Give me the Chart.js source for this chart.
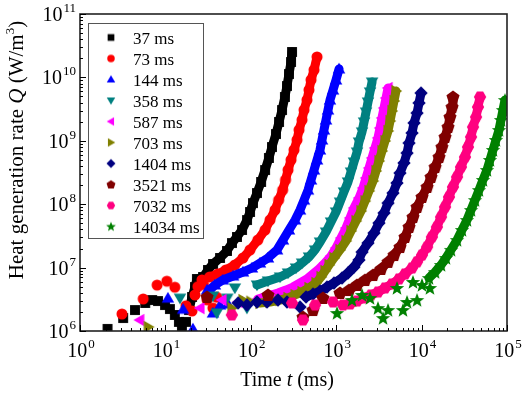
<!DOCTYPE html>
<html>
<head>
<meta charset="utf-8">
<script src="https://cdn.jsdelivr.net/npm/chart.js@4.4.1/dist/chart.umd.min.js"></script>
<style>
  html, body { margin: 0; padding: 0; background: #fff; }
  canvas { display: block; }
</style>
</head>
<body>
<canvas id="chart" width="526" height="395"></canvas>
<script>
const seriesLabels = ['37 ms', '73 ms', '144 ms', '358 ms', '587 ms', '703 ms', '1404 ms', '3521 ms', '7032 ms', '14034 ms'];
const seriesColors = ['#000000', '#ff0000', '#0000ff', '#008080', '#ff00ff', '#808000', '#000080', '#800000', '#ff0080', '#008000'];
const seriesShapes = ['square', 'circle', 'up', 'down', 'left', 'right', 'diamond', 'pentagon', 'hexagon', 'star'];

// time t (ms), heat generation rate Q (W/m3) -- dense rising part of each run
const band37 = [[18.9, 2.14e6], [20.5, 3.44e6], [22.2, 4.94e6], [23.4, 6.61e6], [27.6, 7.11e6], [31.5, 9.17e6], [36.1, 1.14e7], [43.6, 1.42e7], [52.6, 1.83e7], [60.2, 2.44e7], [68.9, 3.04e7], [78.9, 3.92e7], [90.3, 5.63e7], [98, 7.54e7], [106, 1.04e8], [118, 1.5e8], [132, 2.24e8], [147, 3.46e8], [163, 5.36e8], [177, 7.98e8], [197, 1.28e9], [214, 1.98e9], [232, 3.06e9], [251, 4.91e9], [265, 7.31e9], [280, 1.13e10], [296, 1.75e10], [304, 2.52e10]];
const band73 = [[33, 7.11e6], [41, 7.93e6], [51, 9.17e6], [65, 1.1e7], [81, 1.42e7], [98, 1.9e7], [121, 2.72e7], [147, 3.92e7], [168, 5.63e7], [192, 8.1e7], [212, 1.16e8], [236, 1.67e8], [255, 2.41e8], [273, 3.46e8], [296, 4.98e8], [321, 7.16e8], [348, 1.03e9], [367, 1.48e9], [398, 2.13e9], [420, 3.06e9], [455, 4.4e9], [480, 6.32e9], [507, 9.1e9], [550, 1.31e10], [596, 2.1e10]];
const band144 = [[33, 4.43e6], [38, 5.32e6], [47, 6.37e6], [62, 7.37e6], [81, 8.52e6], [103, 9.86e6], [128, 1.18e7], [159, 1.42e7], [203, 1.9e7], [238, 2.72e7], [280, 3.92e7], [330, 5.63e7], [377, 8.1e7], [420, 1.16e8], [468, 1.67e8], [507, 2.41e8], [550, 3.46e8], [596, 4.98e8], [646, 7.16e8], [682, 1.03e9], [719, 1.48e9], [760, 2.13e9], [802, 3.06e9], [846, 4.4e9], [918, 6.32e9], [995, 9.1e9], [1080, 1.36e10]];
const band358 = [[118, 5.32e6], [159, 6.15e6], [220, 7.11e6], [273, 8.22e6], [338, 9.86e6], [398, 1.18e7], [480, 1.47e7], [565, 1.9e7], [646, 2.53e7], [760, 3.64e7], [869, 5.24e7], [995, 7.54e7], [1107, 1.08e8], [1233, 1.56e8], [1374, 2.24e8], [1490, 3.22e8], [1615, 4.63e8], [1754, 6.65e8], [1849, 9.57e8], [2005, 1.38e9], [2117, 1.98e9], [2234, 2.84e9], [2356, 4.09e9], [2488, 5.89e9], [2630, 8.46e9]];
const band587 = [[121, 3.2e6], [159, 3.56e6], [208, 3.98e6], [258, 4.43e6], [312, 4.94e6], [377, 5.71e6], [455, 6.61e6], [535, 7.93e6], [629, 9.51e6], [739, 1.18e7], [869, 1.52e7], [995, 2.04e7], [1138, 2.93e7], [1303, 4.21e7], [1452, 6.06e7], [1615, 8.71e7], [1849, 1.25e8], [2061, 1.8e8], [2234, 2.59e8], [2423, 3.72e8], [2626, 5.36e8], [2845, 7.7e8], [3085, 1.11e9], [3256, 1.59e9], [3437, 2.29e9], [3630, 3.29e9], [3830, 4.73e9], [4050, 6.81e9]];
const band703 = [[128, 2.77e6], [168, 2.87e6], [220, 3.08e6], [273, 3.32e6], [330, 3.7e6], [398, 4.12e6], [480, 4.77e6], [580, 5.71e6], [664, 7.11e6], [739, 8.84e6], [824, 1.1e7], [942, 1.42e7], [1107, 1.9e7], [1303, 2.63e7], [1490, 3.78e7], [1706, 5.43e7], [1951, 7.81e7], [2175, 1.12e8], [2423, 1.62e8], [2698, 2.32e8], [2924, 3.34e8], [3170, 4.8e8], [3437, 6.9e8], [3727, 9.93e8], [4045, 1.43e9], [4266, 2.05e9], [4500, 2.95e9], [4753, 4.25e9], [5010, 6.1e9]];
const band1404 = [[443, 3.44e6], [535, 3.83e6], [646, 4.27e6], [780, 4.94e6], [942, 5.71e6], [1170, 6.85e6], [1374, 8.22e6], [1615, 1.02e7], [1849, 1.32e7], [2005, 1.76e7], [2356, 2.44e7], [2770, 3.51e7], [3170, 5.05e7], [3630, 7.27e7], [4045, 1.04e8], [4620, 1.5e8], [5150, 2.16e8], [5580, 3.1e8], [6220, 4.47e8], [6750, 6.42e8], [7120, 9.23e8], [7720, 1.33e9], [8150, 1.91e9], [8840, 2.74e9], [9330, 3.95e9], [9840, 5.67e9]];
const band3521 = [[1413, 4.43e6], [1754, 5.32e6], [2175, 6.37e6], [2698, 7.64e6], [3350, 9.51e6], [4045, 1.23e7], [4753, 1.58e7], [5580, 2.11e7], [6390, 3.04e7], [7120, 4.37e7], [7930, 6.28e7], [8840, 9.04e7], [10100, 1.3e8], [11600, 1.87e8], [12900, 2.69e8], [14400, 3.86e8], [16000, 5.55e8], [17300, 7.98e8], [18800, 1.15e9], [20400, 1.65e9], [21500, 2.37e9], [22700, 3.41e9], [23300, 4.91e9]];
const band7032 = [[1452, 2.67e6], [1754, 2.97e6], [2117, 3.32e6], [2550, 3.7e6], [3085, 4.12e6], [3727, 4.77e6], [4500, 5.51e6], [5430, 6.61e6], [6390, 7.93e6], [7720, 9.86e6], [8840, 1.23e7], [10100, 1.58e7], [11600, 2.11e7], [13200, 3.04e7], [15100, 4.37e7], [16900, 6.28e7], [18800, 9.04e7], [20900, 1.3e8], [23300, 1.87e8], [26000, 2.69e8], [28900, 3.86e8], [32200, 5.55e8], [34900, 7.98e8], [37900, 1.15e9], [40000, 1.65e9], [43400, 2.37e9], [45700, 3.41e9], [48300, 4.91e9]];
const band14034 = [[12200, 6.85e6], [14400, 8.52e6], [16900, 1.1e7], [19300, 1.42e7], [22100, 1.9e7], [26000, 2.72e7], [29700, 3.92e7], [34000, 5.63e7], [37900, 8.1e7], [42200, 1.16e8], [47000, 1.67e8], [52300, 2.41e8], [58300, 3.46e8], [63200, 4.98e8], [68500, 7.16e8], [74300, 1.03e9], [80600, 1.48e9], [85100, 2.13e9], [89800, 3.06e9], [94800, 4.4e9]];

// early, scattered points of each run
const loose37 = [[2.1, 1.08e6], [3.2, 1.6e6], [4.4, 2.14e6], [5.8, 2.77e6], [7.0, 3.08e6], [8.2, 2.97e6], [9.9, 2.57e6], [11.3, 2.22e6], [12.9, 1.79e6], [14.4, 1.39e6], [15.6, 1.16e6], [17.4, 1.39e6]];
const loose73 = [[3.1, 1.85e6], [5.5, 3.2e6], [8.0, 5.3e6], [10.4, 6.1e6], [12.9, 4.9e6], [17.4, 2.5e6], [20.5, 2.07e6], [22.2, 3.7e6], [24, 5.0e6], [26.8, 6.4e6], [28, 5.4e6], [30.7, 3.1e6], [36, 2.3e6], [40, 3.4e6]];
const loose144 = [[10.7, 3.3e6], [16.1, 2.2e6], [21, 1.08e6], [30.7, 4.43e6], [36, 1.92e6], [43.6, 2.57e6], [54, 2.67e6]];
const loose358 = [[14.8, 3.3e6], [36, 3.56e6], [40, 1.92e6], [53, 3.3e6], [65, 4.77e6], [90, 2.3e6]];
const loose587 = [[5.0, 1.49e6], [25.4, 2.3e6], [46, 3.08e6], [71, 2.87e6]];
const loose703 = [[6.3, 1.16e6], [60, 2.3e6], [81, 3.08e6], [100, 2.9e6]];
const loose1404 = [[71, 2.77e6], [90, 2.57e6], [118, 2.87e6], [155, 2.87e6], [208, 3.08e6], [265, 2.87e6], [377, 2.39e6]];
const loose3521 = [[30.7, 3.44e6], [159, 3.7e6], [408, 1.66e6], [535, 2.14e6], [700, 3.32e6], [1107, 3.98e6]];
const loose7032 = [[60, 1.79e6], [304, 2.77e6], [408, 1.49e6], [565, 2.57e6], [918, 2.87e6], [1200, 2.57e6]];
const loose14034 = [[1022, 1.92e6], [1531, 3.08e6], [2005, 3.7e6], [2488, 3.32e6], [3085, 2.3e6], [3532, 1.6e6], [4045, 2.14e6], [5150, 4.77e6], [6050, 2.14e6], [6750, 2.87e6], [7930, 5.93e6], [8840, 3.08e6], [10100, 5.32e6], [12500, 4.77e6]];

const bands = [band37, band73, band144, band358, band587, band703, band1404, band3521, band7032, band14034];
const loose = [loose37, loose73, loose144, loose358, loose587, loose703, loose1404, loose3521, loose7032, loose14034];

const xDecades = [0, 1, 2, 3, 4, 5];
const yDecades = [6, 7, 8, 9, 10, 11];

const SERIF = '"Liberation Serif", "Times New Roman", serif';

function polygon(g, cx, cy, r, n, startDeg) {
    for (let k = 0; k < n; k++) {
        const a = (startDeg + k * 360 / n) * Math.PI / 180;
        const px = cx + r * Math.cos(a);
        const py = cy + r * Math.sin(a);
        if (k === 0) g.moveTo(px, py); else g.lineTo(px, py);
    }
    g.closePath();
}

function tracePath(g, shape, cx, cy, s) {
    g.beginPath();
    if (shape === 'square') {
        g.rect(cx - 4.3 * s, cy - 4.3 * s, 8.6 * s, 8.6 * s);
    } else if (shape === 'circle') {
        g.arc(cx, cy, 4.8 * s, 0, Math.PI * 2);
    } else if (shape === 'up') {
        polygon(g, cx, cy + 0.8 * s, 6.3 * s, 3, -90);
    } else if (shape === 'down') {
        polygon(g, cx, cy - 0.8 * s, 6.3 * s, 3, 90);
    } else if (shape === 'left') {
        polygon(g, cx + 0.8 * s, cy, 6.3 * s, 3, 180);
    } else if (shape === 'right') {
        polygon(g, cx - 0.8 * s, cy, 6.3 * s, 3, 0);
    } else if (shape === 'diamond') {
        polygon(g, cx, cy, 5.8 * s, 4, -90);
    } else if (shape === 'pentagon') {
        polygon(g, cx, cy + 0.4 * s, 6.0 * s, 5, -90);
    } else if (shape === 'hexagon') {
        polygon(g, cx, cy, 5.4 * s, 6, 0);
    } else if (shape === 'star') {
        for (let k = 0; k < 10; k++) {
            const a = (-90 + k * 36) * Math.PI / 180;
            const r = (k % 2 === 0 ? 6.6 : 2.8) * s;
            const px = cx + r * Math.cos(a);
            const py = cy + 0.5 * s + r * Math.sin(a);
            if (k === 0) g.moveTo(px, py); else g.lineTo(px, py);
        }
        g.closePath();
    }
}

function markerCanvas(shape, color, s) {
    const c = document.createElement('canvas');
    c.width = 20;
    c.height = 20;
    const g = c.getContext('2d');
    g.fillStyle = color;
    tracePath(g, shape, 10, 10, s);
    g.fill();
    return c;
}

const plotMarkers = seriesShapes.map((shape, i) => markerCanvas(shape, seriesColors[i], 1.15));
const legendMarkers = seriesShapes.map((shape, i) => markerCanvas(shape, seriesColors[i], 0.78));

const datasets = [];
seriesLabels.forEach((label, i) => {
    datasets.push({
        label: label,
        data: bands[i],
        showLine: true,
        borderColor: seriesColors[i],
        backgroundColor: seriesColors[i],
        borderWidth: 9,
        borderJoinStyle: 'round',
        borderCapStyle: 'round',
        pointStyle: plotMarkers[i],
        pointRadius: 5,
        order: -i
    });
    datasets.push({
        label: '',
        data: loose[i],
        showLine: false,
        backgroundColor: seriesColors[i],
        pointStyle: plotMarkers[i],
        pointRadius: 5,
        order: -i
    });
});

// "10" with a raised exponent
function drawPower(ctx, exp, x, baseY, align) {
    ctx.font = '20px ' + SERIF;
    const wBase = ctx.measureText('10').width;
    ctx.font = '13px ' + SERIF;
    const wExp = ctx.measureText(String(exp)).width;
    const total = wBase + 1 + wExp;
    const start = align === 'right' ? x - total : x - total / 2 + 1;
    ctx.font = '20px ' + SERIF;
    ctx.fillText('10', start, baseY);
    ctx.font = '13px ' + SERIF;
    ctx.fillText(String(exp), start + wBase + 1, baseY - 9);
}

function drawRich(ctx, parts, startX, baseY) {
    let x = startX;
    parts.forEach(p => {
        ctx.font = p.font;
        ctx.fillText(p.text, x, baseY + (p.dy || 0));
        x += ctx.measureText(p.text).width;
    });
}

function richWidth(ctx, parts) {
    let w = 0;
    parts.forEach(p => {
        ctx.font = p.font;
        w += ctx.measureText(p.text).width;
    });
    return w;
}

const decor = {
    id: 'decor',
    afterDraw(chart) {
        const ctx = chart.ctx;
        const a = chart.chartArea;
        const xs = chart.scales.x;
        const ys = chart.scales.y;
        ctx.save();

        // frame
        ctx.strokeStyle = '#222';
        ctx.lineWidth = 1.6;
        ctx.strokeRect(a.left, a.top, a.right - a.left, a.bottom - a.top);

        // inward ticks
        ctx.lineWidth = 1;
        ctx.strokeStyle = '#000';
        ctx.beginPath();
        xDecades.forEach(k => {
            const px = Math.round(xs.getPixelForValue(Math.pow(10, k))) + 0.5;
            ctx.moveTo(px, a.bottom);
            ctx.lineTo(px, a.bottom - 6);
            if (k < 5) {
                for (let m = 2; m <= 9; m++) {
                    const pm = Math.round(xs.getPixelForValue(m * Math.pow(10, k))) + 0.5;
                    ctx.moveTo(pm, a.bottom);
                    ctx.lineTo(pm, a.bottom - 3);
                }
            }
        });
        yDecades.forEach(k => {
            const py = Math.round(ys.getPixelForValue(Math.pow(10, k))) + 0.5;
            ctx.moveTo(a.left, py);
            ctx.lineTo(a.left + 6, py);
            if (k < 11) {
                for (let m = 2; m <= 9; m++) {
                    const pm = Math.round(ys.getPixelForValue(m * Math.pow(10, k))) + 0.5;
                    ctx.moveTo(a.left, pm);
                    ctx.lineTo(a.left + 3, pm);
                }
            }
        });
        ctx.stroke();

        // tick labels
        ctx.fillStyle = '#000';
        ctx.textBaseline = 'alphabetic';
        ctx.textAlign = 'left';
        xDecades.forEach(k => {
            drawPower(ctx, k, xs.getPixelForValue(Math.pow(10, k)), 357, 'center');
        });
        yDecades.forEach(k => {
            drawPower(ctx, k, 76, ys.getPixelForValue(Math.pow(10, k)) + 7, 'right');
        });

        // axis titles
        const xTitle = [
            { text: 'Time ', font: '20px ' + SERIF },
            { text: 't', font: 'italic 20px ' + SERIF },
            { text: ' (ms)', font: '20px ' + SERIF }
        ];
        const xw = richWidth(ctx, xTitle);
        drawRich(ctx, xTitle, 287 - xw / 2, 386);

        const yTitle = [
            { text: 'Heat generation rate ', font: '21px ' + SERIF },
            { text: 'Q', font: 'italic 21px ' + SERIF },
            { text: ' (W/m', font: '21px ' + SERIF },
            { text: '3', font: '13px ' + SERIF, dy: -9 },
            { text: ')', font: '21px ' + SERIF }
        ];
        const yw = richWidth(ctx, yTitle);
        ctx.save();
        ctx.translate(23, 150);
        ctx.rotate(-Math.PI / 2);
        drawRich(ctx, yTitle, -yw / 2, 0);
        ctx.restore();

        // legend box
        ctx.fillStyle = '#fff';
        ctx.fillRect(88, 23, 115, 215);
        ctx.strokeStyle = '#555';
        ctx.lineWidth = 1;
        ctx.strokeRect(88.5, 23.5, 115, 215);
        ctx.fillStyle = '#000';
        ctx.font = '17px ' + SERIF;
        seriesLabels.forEach((label, i) => {
            const base = 43.5 + 21 * i;
            const mk = legendMarkers[i];
            ctx.drawImage(mk, 111 - mk.width / 2, base - 6 - mk.height / 2);
            ctx.fillText(label, 133, base);
        });

        ctx.restore();
    }
};

new Chart(document.getElementById('chart').getContext('2d'), {
    type: 'scatter',
    data: { datasets: datasets },
    options: {
        responsive: false,
        animation: false,
        events: [],
        layout: { padding: { left: 80, right: 19, top: 14, bottom: 64 } },
        scales: {
            x: { type: 'logarithmic', min: 1, max: 100000, display: false },
            y: { type: 'logarithmic', min: 1e6, max: 1e11, display: false }
        },
        plugins: {
            legend: { display: false },
            tooltip: { enabled: false }
        }
    },
    plugins: [decor]
});
</script>
</body>
</html>
